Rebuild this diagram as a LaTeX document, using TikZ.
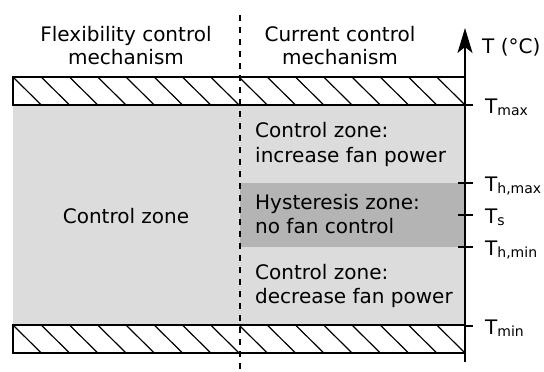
\documentclass[tikz,border=0pt]{standalone}
\usepackage{fontspec}
\setmainfont{DejaVu Sans}
\usetikzlibrary{positioning, arrows.meta}

\definecolor{zonelight}{HTML}{DCDCDC}
\definecolor{zonedark}{HTML}{B4B4B4}

\newcommand{\tsub}[1]{T{\fontsize{14}{14}\selectfont\raisebox{-1.5pt}{#1}}}

\begin{document}
\begin{tikzpicture}[x=1pt, y=-1pt,
    lbl/.style={font=\fontsize{20}{23}\selectfont, align=center, inner sep=0pt},
    zonetxt/.style={font=\fontsize{20}{24.5}\selectfont, align=left,
    anchor=west, inner sep=0pt},
    band/.style={draw, line width=1.5pt},
    hatch/.style={line width=1.2pt},
    divider/.style={line width=1.3pt, dash pattern=on 6pt off 6pt},
    axis/.style={line width=1.6pt, -{Stealth[length=25pt, width=15pt, inset=6pt]}},
    tickmark/.style={line width=1.3pt},
    ticklbl/.style={anchor=base west, font=\fontsize{20}{20}\selectfont,
    inner sep=0pt}
  ]
  \useasboundingbox (0,0) rectangle (544,372);

  % zones
  \fill[zonelight] (13,105) rectangle (465,325);
  \fill[zonedark] (240,183) rectangle (465,247);

  % hatched limits
  \foreach \yt in {77,325} {
    \begin{scope}
      \clip (13,\yt) rectangle (465,\yt+28);
      \foreach \k in {0,...,15}
        \draw[hatch] (13+\k*28.25,\yt) -- ++(28.25,28);
    \end{scope}
    \draw[band] (13,\yt) rectangle (465,\yt+28);
  }

  \node[lbl] (flex) at (126,45.9) {Flexibility control\\mechanism};
  \node[lbl] (curr) at (340,45.9) {Current control\\mechanism};

  \coordinate (divtop) at (240,15);
  \coordinate (divbot) at (240,372);
  \draw[divider] (divtop) -- (divbot);

  \node[lbl, anchor=base] (czone) at (126,223) {Control zone};
  \node[zonetxt] (inc) at (255,144.3) {Control zone:\\increase fan power};
  \node[zonetxt] (hyst) at (255,213.9) {Hysteresis zone:\\no fan control};
  \node[zonetxt] (dec) at (255,285.8) {Control zone:\\decrease fan power};

  % temperature axis
  \coordinate (axbot) at (465,362);
  \coordinate (axtop) at (465,28);
  \draw[axis] (axbot) -- (axtop);
  \node[ticklbl] (tunit) at (482,53) {T (°C)};

  \foreach \nm/\yy/\sub/\lft in {tmax/105/max/0, thmax/183/{h,max}/7,
      ts/215/s/7, thmin/247/{h,min}/7, tmin/326/min/0} {
    \coordinate (\nm) at (465,\yy);
    \draw[tickmark] ([xshift=-\lft pt]\nm) -- ([xshift=8pt]\nm);
    \node[ticklbl] (\nm-lbl) at ([xshift=20pt, yshift=-8.5pt]\nm) {\tsub{\sub}};
  }
\end{tikzpicture}
\end{document}
